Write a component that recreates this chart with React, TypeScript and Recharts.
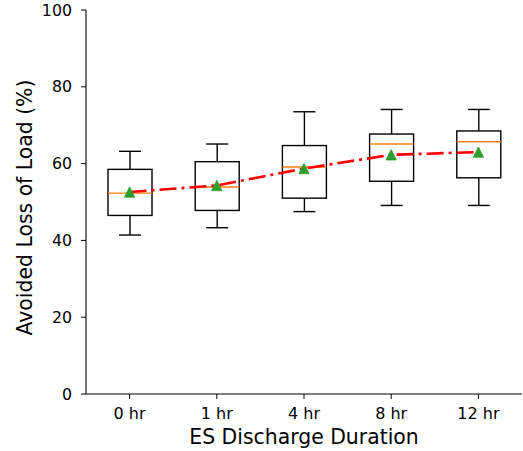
import React from 'react';
import { ComposedChart, Bar, Line, XAxis, YAxis } from 'recharts';

const categories = ['0 hr', '1 hr', '4 hr', '8 hr', '12 hr'];
const whiskerLow = [41.4, 43.3, 47.5, 49.1, 49.1];
const q1 = [46.5, 47.8, 51.0, 55.4, 56.3];
const median = [52.3, 53.9, 59.1, 65.1, 65.7];
const q3 = [58.5, 60.5, 64.7, 67.7, 68.5];
const whiskerHigh = [63.2, 65.1, 73.5, 74.1, 74.1];
const mean = [52.6, 54.3, 58.7, 62.3, 63.0];
const yTicks = [0, 20, 40, 60, 80, 100];

const data = categories.map((name, i) => ({
  name,
  range: [whiskerLow[i], whiskerHigh[i]],
  low: whiskerLow[i],
  q1: q1[i],
  median: median[i],
  q3: q3[i],
  high: whiskerHigh[i],
  mean: mean[i],
}));

const BoxShape = (props: any) => {
  const { x, y, width, height, payload } = props;
  const top = Math.min(y, y + height);
  const h = Math.abs(height);
  const { low, high } = payload;
  const py = (v: number) => top + (h * (high - v)) / (high - low);
  const cx = x + width / 2;
  const capHalf = width / 4;
  const yQ1 = py(payload.q1);
  const yQ3 = py(payload.q3);
  const yMed = py(payload.median);
  const yLow = py(low);
  const yHigh = py(high);
  const sw = 1.4;
  return (
    <g>
      <line x1={cx} x2={cx} y1={yHigh} y2={yQ3} stroke="#000" strokeWidth={sw} />
      <line x1={cx} x2={cx} y1={yQ1} y2={yLow} stroke="#000" strokeWidth={sw} />
      <line x1={cx - capHalf} x2={cx + capHalf} y1={yHigh} y2={yHigh} stroke="#000" strokeWidth={sw} />
      <line x1={cx - capHalf} x2={cx + capHalf} y1={yLow} y2={yLow} stroke="#000" strokeWidth={sw} />
      <rect x={x} y={yQ3} width={width} height={yQ1 - yQ3} fill="none" stroke="#000" strokeWidth={sw} />
      <line x1={x} x2={x + width} y1={yMed} y2={yMed} stroke="#ff7f0e" strokeWidth={sw} />
    </g>
  );
};

const TriangleDot = (props: any) => {
  const { cx, cy } = props;
  if (cx == null || cy == null) return null;
  const s = 5.2;
  return (
    <polygon
      points={`${cx},${cy - s} ${cx - s},${cy + s} ${cx + s},${cy + s}`}
      fill="#2ca02c"
      stroke="#2ca02c"
      strokeWidth={0.8}
    />
  );
};

const fontFamily = "'DejaVu Sans', sans-serif";

export default function App() {
  return (
    <div style={{ position: 'absolute', left: 0, top: 0, background: '#fff' }}>
      <ComposedChart
        width={523}
        height={451}
        data={data}
        margin={{ top: 10, right: 1, left: 0, bottom: 0 }}
      >
        <XAxis
          dataKey="name"
          height={57}
          tickSize={5}
          tickMargin={8.5}
          tickLine={{ stroke: '#000' }}
          axisLine={{ stroke: '#000', strokeWidth: 1.1 }}
          tick={{ fill: '#000', fontSize: 16, fontFamily }}
          interval={0}
          label={{
            content: () => (
              <text x={304} y={443.5} textAnchor="middle" fill="#000" fontSize={20.4} fontFamily={fontFamily}>
                ES Discharge Duration
              </text>
            ),
          }}
        />
        <XAxis
          xAxisId="top"
          dataKey="name"
          orientation="top"
          height={0}
          tick={false}
          tickLine={false}
          axisLine={{ stroke: '#000', strokeWidth: 1.1 }}
        />
        <YAxis
          domain={[0, 100]}
          ticks={yTicks}
          width={86}
          tickSize={5}
          tickMargin={9}
          tickLine={{ stroke: '#000' }}
          axisLine={{ stroke: '#000', strokeWidth: 1.1 }}
          tick={{ fill: '#000', fontSize: 15.8, fontFamily }}
          label={{
            content: () => (
              <text
                x={31.5}
                y={207.5}
                transform="rotate(-90, 31.5, 207.5)"
                textAnchor="middle"
                fill="#000"
                fontSize={20.4}
                fontFamily={fontFamily}
              >
                Avoided Loss of Load (%)
              </text>
            ),
          }}
        />
        <YAxis
          yAxisId="right"
          orientation="right"
          domain={[0, 100]}
          width={0}
          tick={false}
          tickLine={false}
          axisLine={{ stroke: '#000', strokeWidth: 1.1 }}
        />
        <Bar dataKey="range" barSize={44} shape={BoxShape} isAnimationActive={false} />
        <Line
          dataKey="mean"
          stroke="#ff0000"
          strokeWidth={2.6}
          strokeDasharray="17 5 3 5"
          dot={TriangleDot}
          activeDot={false}
          isAnimationActive={false}
        />
      </ComposedChart>
    </div>
  );
}
